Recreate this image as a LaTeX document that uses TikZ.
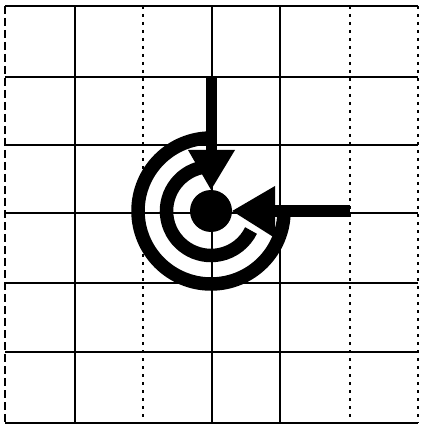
\documentclass[tikz,border=0pt]{standalone}
\begin{document}
\begin{tikzpicture}[x=1pt,y=-1pt,
  gridline/.style={line width=1.4pt,black},
  dotline/.style={line width=1.2pt,black,dash pattern=on 3pt off 5pt},
  dashline/.style={line width=1.3pt,black,dash pattern=on 8pt off 4pt},
  ring/.style={line width=13.5pt,black},
  shaft/.style={line width=11pt,black},
  head/.style={fill=black}]
\useasboundingbox (0,0) rectangle (420,427);
\fill[white] (0,0) rectangle (420,427);
% grid
\foreach \y in {6,77,145,213,283,352,423} \draw[gridline] (5,\y) -- (418,\y);
\foreach \x in {75,212,280} \draw[gridline] (\x,6) -- (\x,423);
\foreach \x in {143,350,418} \draw[dotline] (\x,6) -- (\x,423);
\draw[dashline] (5,6) -- (5,423);
% target
\coordinate (c) at (211,211);
\node[circle,fill=black,minimum size=42pt,inner sep=0pt] (dot) at (c) {};
\draw[ring] (c) ++(270:73) arc[start angle=270,end angle=0,radius=73];
\draw[ring] (c) ++(258:44.5) arc[start angle=258,end angle=26,radius=44.5];
% vertical arrow
\coordinate (vs) at (211,77);
\coordinate (vb) at (211,150.5);
\draw[shaft] (vs) -- (vb);
\fill[head] (188,150) -- (235,150) -- (dot.north) -- cycle;
% horizontal arrow
\coordinate (hs) at (350,211);
\coordinate (hb) at (274.5,211);
\draw[shaft] (hs) -- (hb);
\fill[head] (275,186) -- (275,238) -- (dot.east) -- cycle;
\end{tikzpicture}
\end{document}
